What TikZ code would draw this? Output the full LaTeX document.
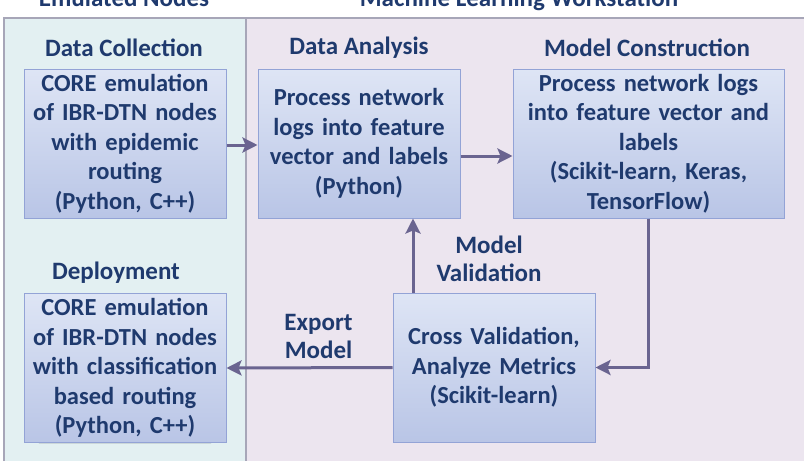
\documentclass[tikz,border=0pt]{standalone}
\usepackage{fontspec}
\setmainfont{Carlito}
\usetikzlibrary{arrows.meta,positioning,shadows.blur}
\definecolor{navy}{HTML}{1F3A6E}
\definecolor{emufill}{HTML}{E3F0F2}
\definecolor{mlfill}{HTML}{ECE5EF}
\definecolor{panelline}{HTML}{A7A6B8}
\definecolor{boxtop}{HTML}{DEE5F5}
\definecolor{boxbottom}{HTML}{B9C5E6}
\definecolor{boxline}{HTML}{93A3D6}
\definecolor{flowline}{HTML}{6A6490}

\tikzset{
  stage/.style={draw=boxline, line width=1pt, top color=boxtop, bottom color=boxbottom,
    minimum width=202pt, minimum height=149pt, text width=198pt, align=center,
    inner sep=0pt, text=navy, font=\bfseries\fontsize{24.5}{29.5}\selectfont,
    blur shadow={shadow xshift=0pt, shadow yshift=-12pt, shadow scale=0.85, shadow opacity=22}},
  wide/.style={minimum width=271pt, text width=267pt},
  heading/.style={text=navy, align=center, inner sep=0pt,
    font=\bfseries\fontsize{25}{28}\selectfont},
  flow/.style={draw=flowline, line width=3pt, -{Stealth[length=15pt,width=15pt,inset=3pt]}}
}

\begin{document}
\begin{tikzpicture}[x=1pt, y=-1pt]
        \useasboundingbox (0,0) rectangle (804,461);

        % 背景のパネル
        \fill[emufill] (4,18) rectangle (246,461);
        \fill[mlfill] (246,18) rectangle (804,461);
        \draw[panelline, line width=1.5pt] (4,461) |- (804,18);
        \draw[panelline, line width=1.5pt] (246,18) -- (246,461);

        % パネルの見出し
        \node[heading, anchor=base] (emulated) at (124,6) {Emulated Nodes};
        \node[heading, anchor=base] (workstation) at (519,6) {Machine Learning Workstation};

        % 各段階のボックス
        \node[stage] (collect) at (125,143.5) {CORE emulation\\of IBR-DTN nodes\\with epidemic\\routing\\(Python, C++)};
        \node[stage] (analysis) at (359,143.5) {Process network\\logs into feature\\vector and labels\\(Python)};
        \node[stage, wide] (construct) at (648.5,143.5) {Process network logs\\into feature vector and\\labels\\(Scikit-learn, Keras,\\TensorFlow)};
        \node[stage] (deploy) at (125,368) {CORE emulation\\of IBR-DTN nodes\\with classification\\based routing\\(Python, C++)};
        \node[stage] (validate) at (494,367.5) {Cross Validation,\\Analyze Metrics\\(Scikit-learn)};

        % 段階の名前
        \node[heading] (collectlbl) at (124,48) {Data Collection};
        \node[heading] (analysislbl) at (359,48) {Data Analysis};
        \node[heading] (constructlbl) at (647,48) {Model Construction};
        \node[heading] (deploylbl) at (116,273) {Deployment};

        % 矢印
        \draw[flow] ([yshift=-1.5pt]collect.east) -- ([yshift=-1.5pt]analysis.west);
        \draw[flow] ([yshift=-12.5pt]analysis.east) -- ([yshift=-12.5pt]construct.west);
        \draw[flow] (construct.south) |- (validate.east);
        \draw[flow] ([xshift=-81pt]validate.north) -- ([xshift=-81pt]validate.north |- analysis.south)
            node[heading, pos=0.45, right=22pt] (validlbl) {Model\\Validation};
        \draw[flow] (validate.west) -- (deploy.east)
            node[heading, midway, above=8pt, xshift=9pt] (exportlbl) {Export\\Model};
    \end{tikzpicture}
\end{document}
